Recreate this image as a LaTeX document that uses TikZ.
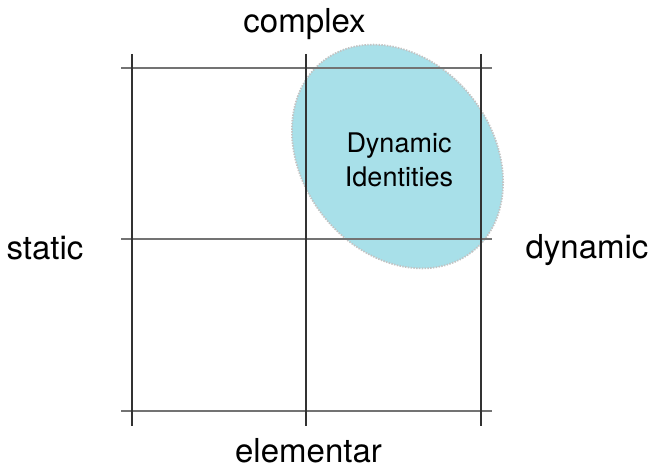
\documentclass[tikz,border=0pt]{standalone}
\usepackage{fontspec}
\setmainfont{TeX Gyre Heros}
\usetikzlibrary{shapes.geometric}
\definecolor{blobfill}{RGB}{168,224,233}
\definecolor{blobline}{RGB}{195,195,195}
\definecolor{vline}{RGB}{50,50,50}
\definecolor{hline}{RGB}{115,115,115}
\tikzset{
  axislabel/.style={font=\fontsize{33}{38}\selectfont, anchor=base, inner sep=0pt},
  blob/.style={ellipse, fill=blobfill, draw=blobline, line width=1.8pt,
    dash pattern=on 1.4pt off 1.4pt, inner sep=0pt},
  vgrid/.style={draw=vline, line width=1.1pt},
  hgrid/.style={draw=hline, line width=1.1pt},
}
\begin{document}
\begin{tikzpicture}[x=1pt,y=-1pt]
\useasboundingbox (0,0) rectangle (652,468);
% blob
\node[blob, minimum width=242pt, minimum height=190pt, rotate=-52] (dyn) at (397.5,156.5) {};
\node[font=\fontsize{27}{34}\selectfont, align=center, inner sep=0pt] (dyntxt) at (399,160) {Dynamic\\Identities};
% grid coordinates
\coordinate (v1t) at (132,54);  \coordinate (v1b) at (132,426);
\coordinate (v2t) at (306,54);  \coordinate (v2b) at (306,426);
\coordinate (v3t) at (481,54);  \coordinate (v3b) at (481,426);
\coordinate (h1l) at (121,68);  \coordinate (h1r) at (492,68);
\coordinate (h2l) at (121,239); \coordinate (h2r) at (492,239);
\coordinate (h3l) at (121,411); \coordinate (h3r) at (492,411);
\draw[hgrid] (h1l) -- (h1r);
\draw[hgrid] (h2l) -- (h2r);
\draw[hgrid] (h3l) -- (h3r);
\draw[vgrid] (v1t) -- (v1b);
\draw[vgrid] (v2t) -- (v2b);
\draw[vgrid] (v3t) -- (v3b);
% labels
\node[axislabel] (complex) at (304.5,33) {complex};
\node[axislabel] (static) at (45,259) {static};
\node[axislabel] (dynamic) at (587,258) {dynamic};
\node[axislabel] (elementar) at (308.5,462) {elementar};
\end{tikzpicture}
\end{document}
